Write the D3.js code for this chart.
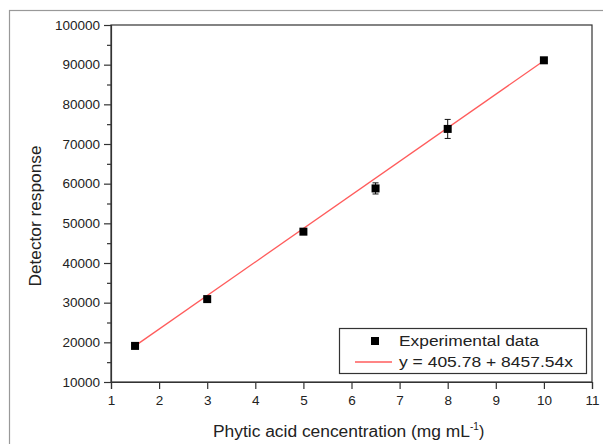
<!DOCTYPE html>
<html><head><meta charset="utf-8">
<script src="https://cdn.jsdelivr.net/npm/d3@7"></script>
<style>
html,body{margin:0;padding:0;background:#fff;}
svg{display:block;font-family:"Liberation Sans",Arial,sans-serif;}
</style></head>
<body><svg id="c" width="603" height="444"></svg>
<script>
const concentrations = [1.5, 3, 5, 6.5, 8, 10];
const responses = [19100, 30900, 47900, 58800, 73800, 91100];
const errors = [300, 400, 500, 1400, 2400, 300];
const fitX = [1.5, 10];
const fitY = [19100, 91000];
const xTicks = [1,2,3,4,5,6,7,8,9,10,11];
const yTicks = [10000,20000,30000,40000,50000,60000,70000,80000,90000,100000];
const yMinor = [15000,25000,35000,45000,55000,65000,75000,85000,95000];
const legendLabels = ["Experimental data", "y = 405.78 + 8457.54x"];

const svg = d3.select("#c");
const L=111, R=592, T=25, B=382;
const x = d3.scaleLinear().domain([1,11]).range([L,R]);
const y = d3.scaleLinear().domain([10000,100000]).range([B,T]);
const axisCol = "#333", textCol = "#222";

// outer frame
svg.append("rect").attr("x",9.5).attr("y",10.5).attr("width",700).attr("height",500)
  .attr("fill","none").attr("stroke","#999").attr("stroke-width",1.2);

// plot frame
svg.append("rect").attr("x",L).attr("y",T).attr("width",R-L).attr("height",B-T)
  .attr("fill","none").attr("stroke",axisCol).attr("stroke-width",1.2);

// y axis
svg.append("g").attr("transform",`translate(${L},0)`)
  .call(d3.axisLeft(y).tickValues(yTicks).tickFormat(d3.format("d")).tickSize(7).tickPadding(4));
svg.append("g").attr("transform",`translate(${L},0)`)
  .call(d3.axisLeft(y).tickValues(yMinor).tickFormat("").tickSize(4))
  .call(g=>g.select(".domain").remove());
// x axis
svg.append("g").attr("transform",`translate(0,${B})`)
  .call(d3.axisBottom(x).tickValues(xTicks).tickFormat(d3.format("d")).tickSize(7).tickPadding(6));
svg.selectAll(".tick line").attr("stroke",axisCol).attr("stroke-width",1.2);
svg.selectAll(".domain").attr("stroke",axisCol).attr("stroke-width",1.2);
svg.selectAll(".tick text").attr("fill",textCol).attr("font-size",13.5)
  .attr("font-family","'Liberation Sans',Arial,sans-serif");

// fit line
svg.append("path").datum(fitX.map((v,i)=>[v,fitY[i]]))
  .attr("d", d3.line().x(d=>x(d[0])).y(d=>y(d[1])))
  .attr("stroke","#ff5c5c").attr("stroke-width",1.3).attr("fill","none");

// error bars
const eb = svg.append("g").attr("stroke","#111").attr("stroke-width",1);
concentrations.forEach((c,i)=>{
  const cx=x(c), y1=y(responses[i]+errors[i]), y2=y(responses[i]-errors[i]);
  eb.append("line").attr("x1",cx).attr("x2",cx).attr("y1",y1).attr("y2",y2);
  eb.append("line").attr("x1",cx-3).attr("x2",cx+3).attr("y1",y1).attr("y2",y1);
  eb.append("line").attr("x1",cx-3).attr("x2",cx+3).attr("y1",y2).attr("y2",y2);
});
// points
svg.append("g").selectAll("rect").data(concentrations).join("rect")
  .attr("x",(d)=>x(d)-4).attr("y",(d,i)=>y(responses[i])-4)
  .attr("width",8).attr("height",8).attr("fill","#000");

// axis titles
const xt = svg.append("text").attr("x",213).attr("y",437).attr("text-anchor","start")
  .attr("font-size",16).attr("fill",textCol);
xt.append("tspan").text("Phytic acid cencentration (mg mL")
  .attr("textLength",257).attr("lengthAdjust","spacingAndGlyphs");
xt.append("tspan").attr("dy",-7).attr("font-size",10).text("-1");
xt.append("tspan").attr("dy",7).text(")");
svg.append("text").attr("transform","translate(41,216) rotate(-90)").attr("text-anchor","middle")
  .attr("font-size",16).attr("fill",textCol).attr("textLength",141)
  .attr("lengthAdjust","spacingAndGlyphs").text("Detector response");

// legend
const lg = svg.append("g");
lg.append("rect").attr("x",339.5).attr("y",328.5).attr("width",247).attr("height",45)
  .attr("fill","#fff").attr("stroke",axisCol).attr("stroke-width",1.2);
lg.append("rect").attr("x",371).attr("y",337).attr("width",8).attr("height",8).attr("fill","#000");
lg.append("line").attr("x1",355).attr("x2",392).attr("y1",362).attr("y2",362)
  .attr("stroke","#ff5c5c").attr("stroke-width",1.3);
lg.append("text").attr("x",399).attr("y",346).attr("font-size",15.5).attr("fill",textCol)
  .attr("textLength",140).attr("lengthAdjust","spacingAndGlyphs").text(legendLabels[0]);
lg.append("text").attr("x",399).attr("y",367).attr("font-size",15.5).attr("fill",textCol)
  .attr("textLength",174).attr("lengthAdjust","spacingAndGlyphs").text(legendLabels[1]);
</script></body></html>
